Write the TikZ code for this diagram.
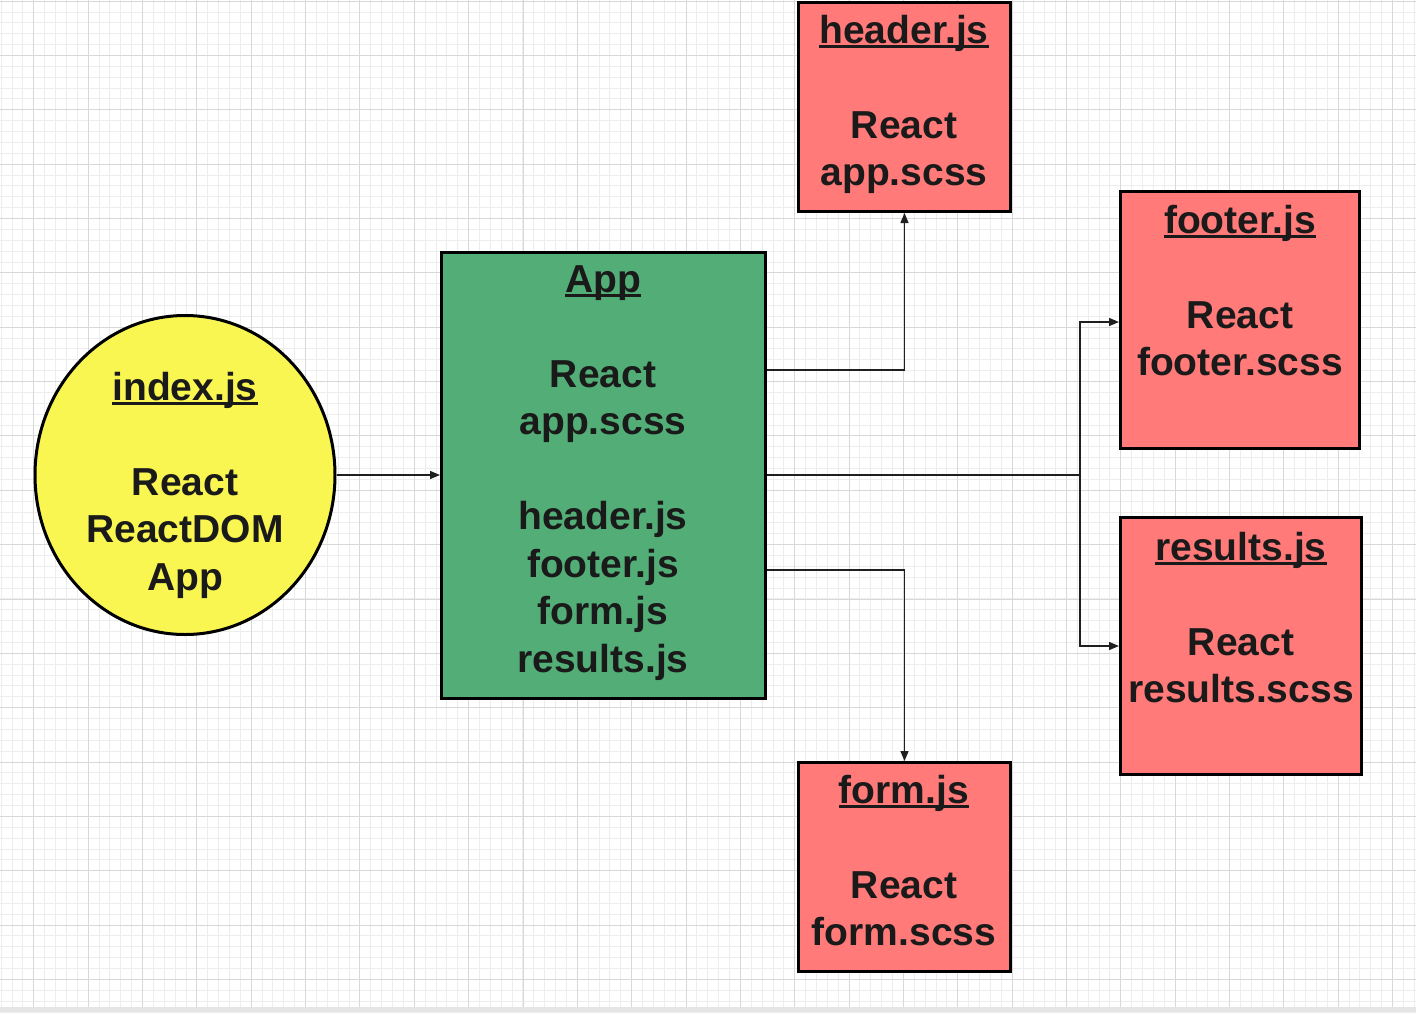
\documentclass[tikz,border=0pt]{standalone}
\usepackage{fontspec}
\setmainfont{Liberation Sans}
\usetikzlibrary{arrows.meta,shapes.geometric,calc}
\definecolor{gridminor}{HTML}{EDEDED}
\definecolor{gridmajor}{HTML}{D8D8D8}
\definecolor{yel}{HTML}{F9F652}
\definecolor{grn}{HTML}{52AE76}
\definecolor{rd}{HTML}{FF7A78}
\definecolor{txt}{HTML}{1A1A1A}
\newcommand\myul[1]{\setbox0\hbox{#1}\rlap{\rule[-5pt]{\wd0}{3pt}}\box0}
\begin{document}
\begin{tikzpicture}[x=1pt,y=-1pt,
  shapebox/.style={draw=black, line width=3pt, inner sep=0pt},
  redbox/.style={shapebox, fill=rd, rectangle},
  label/.style={anchor=north, align=center, inner sep=0pt, text=txt,
    font=\fontsize{39}{47.5}\selectfont\bfseries},
  conn/.style={draw=black!88, line width=1.3pt},
  arr/.style={conn, -{Triangle[length=10pt,width=8pt]}}]
\fill[white] (0,0) rectangle (1416,1012);
\useasboundingbox (0,0) rectangle (1416,1012);
% grid
\foreach \i in {0,...,131}{\pgfmathsetmacro\gx{round(-10.13+\i*10.87)+0.5}
  \draw[gridminor,line width=1pt] (\gx,0) -- (\gx,1012);}
\foreach \j in {0,...,93}{\pgfmathsetmacro\gy{round(0.65+\j*10.87)+0.5}
  \draw[gridminor,line width=1pt] (0,\gy) -- (1416,\gy);}
\foreach \k in {0,...,25}{\pgfmathsetmacro\gx{round(33.35+\k*54.35)+0.5}
  \draw[gridmajor,line width=1pt] (\gx,0) -- (\gx,1012);}
\foreach \k in {-1,...,18}{\pgfmathsetmacro\gy{round(55+\k*54.35)+0.5}
  \draw[gridmajor,line width=1pt] (0,\gy) -- (1416,\gy);}
\fill[black!10] (0,1007) rectangle (1416,1012);
% shapes
\node[shapebox, ellipse, fill=yel, minimum width=300pt, minimum height=319pt] (idx) at (185,475) {};
\node[shapebox, rectangle, fill=grn, minimum width=324pt, minimum height=446pt] (app) at (603.5,475) {};
\node[redbox, minimum width=212pt, minimum height=209pt] (hdr) at (904.5,107) {};
\node[redbox, minimum width=239pt, minimum height=257pt] (ftr) at (1240,320) {};
\node[redbox, minimum width=241pt, minimum height=257pt] (res) at (1241,646) {};
\node[redbox, minimum width=212pt, minimum height=209pt] (frm) at (904.5,867) {};
% texts
\node[label] (idxt) at (185,372) {\myul{index.js}\\~\\React\\ReactDOM\\App};
\node[label] (appt) at (603,265) {\myul{App}\\~\\React\\app.scss\\~\\header.js\\footer.js\\form.js\\results.js};
\node[label] (hdrt) at (904,15) {\myul{header.js}\\~\\React\\app.scss};
\node[label] (ftrt) at (1240,205) {\myul{footer.js}\\~\\React\\footer.scss};
\node[label] (rest) at (1241,532) {\myul{results.js}\\~\\React\\results.scss};
\node[label] (frmt) at (904,775) {\myul{form.js}\\~\\React\\form.scss};
% connectors
\coordinate (split) at (1080,475);
\draw[arr] (idx.east) -- (app.west);
\draw[arr] (app.east |- 0,370) -| (hdr.south);
\draw[conn] (app.east) -- (split);
\draw[arr] (split) |- ($(ftr.west)+(0,2)$);
\draw[arr] (split) |- (res.west);
\draw[arr] (app.east |- 0,570) -| (frm.north);
\end{tikzpicture}
\end{document}
